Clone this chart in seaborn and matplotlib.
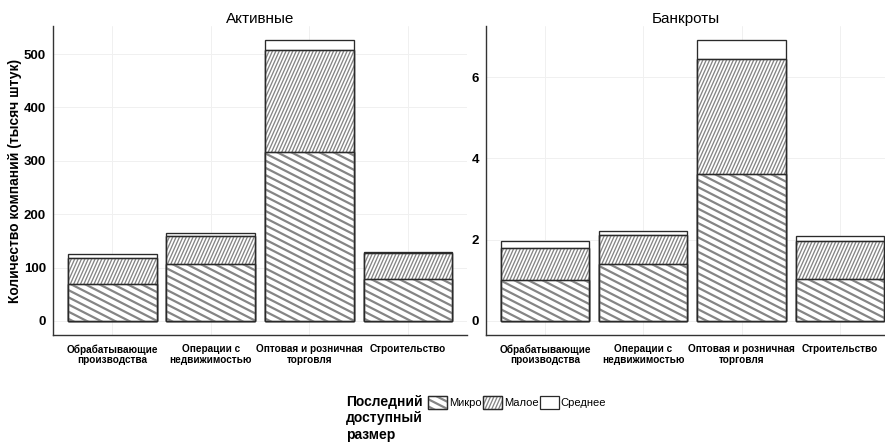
import numpy as np
import pandas as pd
import seaborn as sns
import matplotlib
matplotlib.use("Agg")
import matplotlib.pyplot as plt
from matplotlib.patches import Patch, Rectangle
from matplotlib.collections import LineCollection
from matplotlib.transforms import IdentityTransform
from matplotlib.legend_handler import HandlerBase

categories = ["Обрабатывающие\nпроизводства", "Операции с\nнедвижимостью",
              "Оптовая и розничная\nторговля", "Строительство"]

micro_active = [69, 107, 317, 79]
small_active = [49, 53, 191, 48]
medium_active = [8, 5, 18, 3]

micro_bankrupt = [1.00, 1.40, 3.62, 1.04]
small_bankrupt = [0.80, 0.72, 2.83, 0.92]
medium_bankrupt = [0.16, 0.10, 0.46, 0.14]

panel_titles = ["Активные", "Банкроты"]
size_labels = ["Микро", "Малое", "Среднее"]
legend_title = "Последний\nдоступный\nразмер"
ylabel = "Количество компаний (тысяч штук)"

sns.set_theme(style="white")
plt.rcParams["font.family"] = ["Liberation Sans", "DejaVu Sans"]
plt.rcParams["text.color"] = "black"
plt.rcParams["axes.labelcolor"] = "black"
plt.rcParams["xtick.color"] = "black"
plt.rcParams["ytick.color"] = "black"

DPI = 100
EDGE = "#2a2a2a"
STRIPE = "#858585"
# stripe styles: (angle in degrees, spacing in px, line width in pt)
STYLE_MICRO = (-27, 6.4, 1.6)
STYLE_SMALL = (66, 3.1, 0.95)

fig = plt.figure(figsize=(8.85, 4.42), dpi=DPI)
W, H = 885, 442


def axpos(x0, y0, x1, y1):
    return [x0 / W, 1 - y1 / H, (x1 - x0) / W, (y1 - y0) / H]


ax1 = fig.add_axes(axpos(53, 26, 467, 335))
ax2 = fig.add_axes(axpos(486, 26, 885, 335))


def stripe_segments(x0, y0, x1, y1, angle, spacing):
    a = np.deg2rad(angle)
    d = np.array([np.cos(a), np.sin(a)])
    n = np.array([-np.sin(a), np.cos(a)])
    corners = np.array([[x0, y0], [x1, y0], [x0, y1], [x1, y1]])
    pn = corners @ n
    pd_ = corners @ d
    cs = np.arange(np.floor(pn.min() / spacing) * spacing, pn.max() + spacing, spacing)
    tmin, tmax = pd_.min() - 1, pd_.max() + 1
    segs = [[c * n + tmin * d, c * n + tmax * d] for c in cs]
    return segs


def add_stripes(ax, patch, style):
    angle, spacing, lw = style
    bb = patch.get_window_extent()
    segs = stripe_segments(bb.x0, bb.y0, bb.x1, bb.y1, angle, spacing)
    lc = LineCollection(segs, colors=STRIPE, linewidths=lw,
                        transform=IdentityTransform(), zorder=patch.get_zorder() + 0.1)
    ax.add_collection(lc, autolim=False)
    lc.set_clip_path(patch)


def layer(ax, df, col, z):
    n0 = len(ax.patches)
    sns.barplot(data=df, x="cat", y=col, color="white", saturation=1,
                width=0.9, ax=ax, zorder=z)
    bars = list(ax.patches[n0:])
    for b in bars:
        b.set_facecolor("white")
        b.set_edgecolor(EDGE)
        b.set_linewidth(0.95)
    return bars


def draw_panel(ax, micro, small, medium, title, yticks, ylim, xlim):
    micro = np.array(micro)
    small = np.array(small)
    medium = np.array(medium)
    df = pd.DataFrame({"cat": categories,
                       "total": micro + small + medium,
                       "ms": micro + small,
                       "micro": micro})
    layer(ax, df, "total", 2)
    small_bars = layer(ax, df, "ms", 3)
    micro_bars = layer(ax, df, "micro", 4)
    ax.set_xlim(*xlim)
    ax.set_ylim(*ylim)
    ax.set_yticks(yticks)
    ax.set_xlabel("")
    ax.set_ylabel("")
    ax.set_title(title, fontsize=11, pad=2.5)
    ax.set_axisbelow(True)
    ax.grid(True, color="#f0f0f0", linewidth=0.7)
    for s in ["top", "right"]:
        ax.spines[s].set_visible(False)
    for s in ["left", "bottom"]:
        ax.spines[s].set_color("#333333")
        ax.spines[s].set_linewidth(1.0)
    ax.tick_params(axis="both", direction="out", length=3, width=0.8,
                   color="#333333", pad=2)
    ax.tick_params(axis="x", pad=3.5)
    for lab in ax.get_yticklabels():
        lab.set_fontsize(9.5)
        lab.set_fontweight("bold")
        lab.set_color("black")
    ax.set_xticks(range(len(categories)))
    ax.set_xticklabels(categories, fontsize=7.2, fontweight="bold",
                       linespacing=1.1, color="black")
    for b in small_bars:
        add_stripes(ax, b, STYLE_SMALL)
    for b in micro_bars:
        add_stripes(ax, b, STYLE_MICRO)
    for b in small_bars + micro_bars:
        r = Rectangle(b.get_xy(), b.get_width(), b.get_height(),
                      facecolor="none", edgecolor=EDGE, linewidth=0.95,
                      zorder=b.get_zorder() + 0.5)
        ax.add_patch(r)


draw_panel(ax1, micro_active, small_active, medium_active, panel_titles[0],
           [0, 100, 200, 300, 400, 500], (-26.3, 552.6), (-0.6, 3.6))
draw_panel(ax2, micro_bankrupt, small_bankrupt, medium_bankrupt, panel_titles[1],
           [0, 2, 4, 6], (-0.3455, 7.256), (-0.6, 3.46))

ax1.set_ylabel(ylabel, fontsize=10, fontweight="bold", labelpad=1)


class StripedHandler(HandlerBase):
    def __init__(self, style):
        super().__init__()
        self.style = style

    def create_artists(self, legend, orig_handle, xdescent, ydescent,
                       width, height, fontsize, trans):
        x0, y0 = -xdescent, -ydescent
        rect = Rectangle((x0, y0), width, height, facecolor="white",
                         edgecolor=EDGE, linewidth=0.9, transform=trans)
        if self.style is None:
            return [rect]
        angle, spacing, lw = self.style
        sp = spacing * 72.0 / DPI
        segs = stripe_segments(x0, y0, x0 + width, y0 + height, angle, sp)
        lc = LineCollection(segs, colors=STRIPE, linewidths=lw, transform=trans)
        clip = Rectangle((x0, y0), width, height, transform=trans)
        lc.set_clip_path(clip)
        outline = Rectangle((x0, y0), width, height, facecolor="none",
                            edgecolor=EDGE, linewidth=0.9, transform=trans)
        return [rect, lc, outline]


fig.text(346 / W, 1 - 395 / H, legend_title, fontsize=10, fontweight="bold",
         va="top", ha="left", linespacing=1.22, color="black")

handles = [Patch(label=size_labels[0]), Patch(label=size_labels[1]),
           Patch(label=size_labels[2])]
hmap = {handles[0]: StripedHandler(STYLE_MICRO),
        handles[1]: StripedHandler(STYLE_SMALL),
        handles[2]: StripedHandler(None)}

fig.legend(handles, size_labels, loc="upper left", handler_map=hmap,
           bbox_to_anchor=(428 / W, 1 - 396 / H), ncol=3, frameon=False,
           fontsize=8, handlelength=1.75, handleheight=1.45,
           handletextpad=0.15, columnspacing=0.1, borderpad=0,
           borderaxespad=0, labelcolor="black")

fig.savefig("out.png", dpi=DPI)
